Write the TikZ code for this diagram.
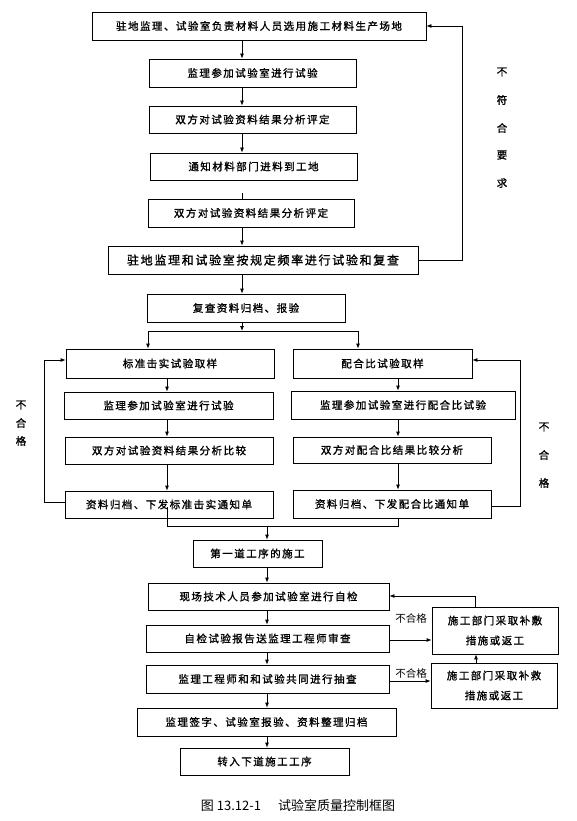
\documentclass[tikz,border=0pt]{standalone}
\usepackage{fontspec}
\usetikzlibrary{arrows.meta}
\newfontfamily\cjk[LetterSpace=14,FakeBold=1.3]{Noto Sans CJK SC}
\newfontfamily\cjkbold[FakeBold=1.3]{Noto Sans CJK SC}
\newfontfamily\cjkplain{Noto Sans CJK SC}
\begin{document}
\begin{tikzpicture}[x=1pt,y=-1pt,
  bx/.style={draw, line width=0.8pt, inner sep=0pt, anchor=center, align=center,
    font=\cjk\fontsize{10.5}{20}\selectfont},
  bigbx/.style={bx, font=\cjk\fontsize{12}{14}\selectfont},
  arr/.style={line width=0.8pt, -{Latex[length=5pt,width=4pt]}},
  ln/.style={line width=0.8pt},
  vlbl/.style={inner sep=0pt, font=\cjkbold\fontsize{10.5}{12}\selectfont},
  nlbl/.style={inner sep=0pt, font=\cjkplain\fontsize{10.5}{12}\selectfont},
  captxt/.style={inner sep=0pt, font=\cjkplain\fontsize{13}{15}\selectfont}]
\useasboundingbox (0,0) rectangle (576,821);
\fill[white] (0,0) rectangle (576,821);

% main column
\node[bx, minimum width=334, minimum height=28] (b1) at (259,26) {驻地监理、试验室负责材料人员选用施工材料生产场地};
\node[bx, minimum width=207, minimum height=28] (b2) at (252.5,73) {监理参加试验室进行试验};
\node[bx, minimum width=207, minimum height=27] (b3) at (252.5,119.5) {双方对试验资料结果分析评定};
\node[bx, minimum width=207, minimum height=27] (b4) at (253.5,166.5) {通知材料部门进料到工地};
\node[bx, minimum width=206, minimum height=28] (b5) at (251,213) {双方对试验资料结果分析评定};
\node[bigbx, minimum width=310, minimum height=28] (b6) at (263,260) {驻地监理和试验室按规定频率进行试验和复查};
\node[bx, minimum width=198, minimum height=28] (b7) at (246,308) {复查资料归档、报验};

% left column
\node[bx, minimum width=208, minimum height=29] (L1) at (170,363.5) {标准击实试验取样};
\node[bx, minimum width=209, minimum height=27] (L2) at (168.5,405.5) {监理参加试验室进行试验};
\node[bx, minimum width=208, minimum height=27] (L3) at (169,450.5) {双方对试验资料结果分析比较};
\node[bx, minimum width=208, minimum height=27] (L4) at (169,504.5) {资料归档、下发标准击实通知单};

% right column
\node[bx, minimum width=179, minimum height=29] (R1) at (382.5,363.5) {配合比试验取样};
\node[bx, minimum width=224, minimum height=28] (R2) at (403,405) {监理参加试验室进行配合比试验};
\node[bx, minimum width=198, minimum height=26] (R3) at (392,450) {双方对配合比结果比较分析};
\node[bx, minimum width=198, minimum height=28] (R4) at (392,504) {资料归档、下发配合比通知单};

% lower column
\node[bx, minimum width=129, minimum height=27] (F) at (257.5,553.5) {第一道工序的施工};
\node[bx, minimum width=241, minimum height=27] (Q1) at (268.5,596.5) {现场技术人员参加试验室进行自检};
\node[bx, minimum width=243, minimum height=27] (Q2) at (267.5,638.5) {自检试验报告送监理工程师审查};
\node[bx, minimum width=243, minimum height=28] (Q3) at (267.5,679) {监理工程师和和试验共同进行抽查};
\node[bx, minimum width=259, minimum height=28] (Q4) at (266.5,722) {监理签字、试验室报验、资料整理归档};
\node[bx, minimum width=169, minimum height=27] (Q5) at (264.5,761.5) {转入下道施工工序};

\node[bx, minimum width=126, minimum height=47] (S1) at (495,630.5) {施工部门采取补敷\\措施或返工};
\node[bx, minimum width=126, minimum height=45] (S2) at (494,685.5) {施工部门采取补救\\措施或返工};

% coordinates for connector lanes
\coordinate (ax) at (242,0);
\coordinate (lx) at (167,0);
\coordinate (rx) at (398,0);
\coordinate (qx) at (267,0);
\coordinate (sL) at (148,331);
\coordinate (sR) at (358,331);
\coordinate (sM) at (242,331);
\coordinate (mL) at (167,507);
\coordinate (mM) at (267,526);

% main column connectors
\draw[arr] (b1.south -| ax) -- (b2.north -| ax);
\draw[arr] (b2.south -| ax) -- (b3.north -| ax);
\draw[arr] (b3.south -| ax) -- (b4.north -| ax);
\draw[ln] (b5.north -| ax) -- ++(0,-6);
\draw[arr] (b5.south -| ax) -- (b6.north -| ax);
\draw[arr] (b6.south -| ax) -- (b7.north -| ax);
\draw[arr] (b6.east) -- (462,260) -- (462,26) -- (b1.east);

% split
\draw[arr] (b7.south -| ax) -- (sM);
\draw[ln] (sL) -- (sR);
\draw[arr] (sL) -- (sL |- L1.north);
\draw[arr] (sR) -- (sR |- R1.north);

% left column connectors
\draw[arr] (L1.south -| lx) -- (L2.north -| lx);
\draw[arr] (L2.south -| lx) -- (L3.north -| lx);
\draw[arr] (L3.south -| lx) -- (L4.north -| lx);
\draw[arr] (L4.west |- 0,502) -- (44,502) -- (44,360) -- (L1.west |- 0,360);

% right column connectors
\draw[arr] (R1.south -| rx) -- (R2.north -| rx);
\draw[arr] (R2.south -| rx) -- (R3.north -| rx);
\draw[arr] (R3.south -| rx) -- (R4.north -| rx);
\draw[arr] (R4.east |- 0,506) -- (520,506) -- (520,360) -- (R1.east |- 0,360);

% merge
\draw[ln] (mL) -- (167,526) -- (398,526) -- (R4.south -| rx);
\draw[arr] (mM) -- (F.north -| qx);

% lower column connectors
\draw[arr] (F.south -| qx) -- (Q1.north -| qx);
\draw[arr] (Q1.south -| qx) -- (Q2.north -| qx);
\draw[arr] (Q2.south -| qx) -- (Q3.north -| qx);
\draw[arr] (Q3.south -| qx) -- (Q4.north -| qx);
\draw[arr] (Q4.south -| qx) -- (Q5.north -| qx);

\draw[arr] (S1.north -| 475,0) -- (475,596) -- (Q1.east |- 0,596);
\draw[arr] (Q2.east |- 0,640) -- (S1.west |- 0,640);
\draw[arr] (Q3.east |- 0,681) -- (S2.west |- 0,681);
\draw[arr] (S2.north -| 476,0) -- (S1.south -| 476,0);
\node[nlbl] (n1) at (411,618) {不合格};
\node[nlbl] (n2) at (411,673) {不合格};

% vertical labels
\node[vlbl] (t1) at (502,72) {不};
\node[vlbl] (t2) at (502,100) {符};
\node[vlbl] (t3) at (502,128) {合};
\node[vlbl] (t4) at (502,155) {要};
\node[vlbl] (t5) at (502,183) {求};

\node[vlbl] (u1) at (21,405) {不};
\node[vlbl] (u2) at (21,423) {合};
\node[vlbl] (u3) at (21,441) {格};

\node[vlbl] (v1) at (544,427) {不};
\node[vlbl] (v2) at (544,455) {合};
\node[vlbl] (v3) at (544,483) {格};

% caption
\node[captxt] (caption) at (298,805) {图 13.12-1\hspace{1.3em}试验室质量控制框图};
\end{tikzpicture}
\end{document}
